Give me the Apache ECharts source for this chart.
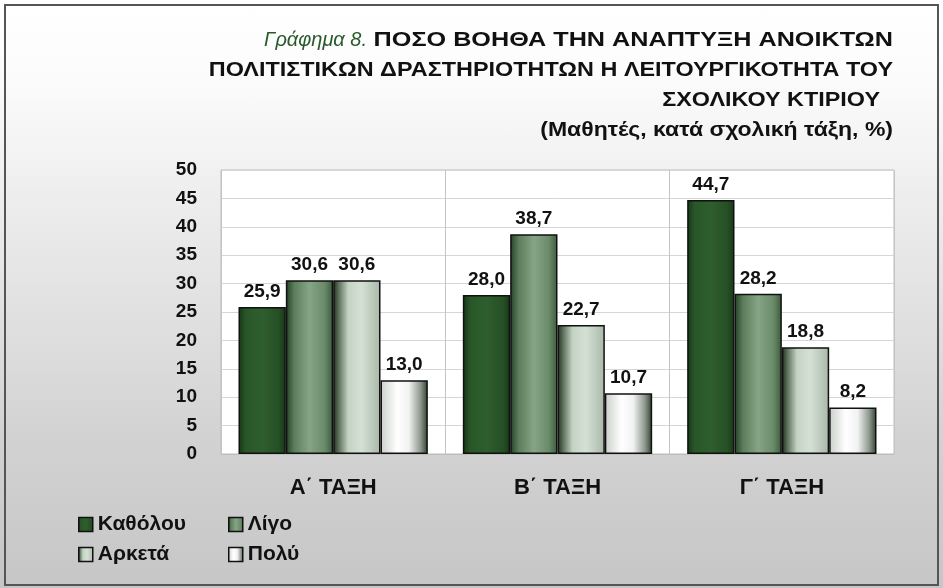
<!DOCTYPE html>
<html>
<head>
<meta charset="utf-8">
<script src="https://cdn.jsdelivr.net/npm/echarts@6/dist/echarts.min.js"></script>
<style>
    html, body { margin: 0; padding: 0; background: #fff; }
    #chart {
        width: 943px; height: 588px;
        background: linear-gradient(to bottom, #ffffff 0%, #fcfcfc 12%, #e6e6e6 45%, #d2d2d2 75%, #c6c6c6 100%);
    }
</style>
</head>
<body>
<div id="chart"></div>
<script>
    const classes = ['Α΄ ΤΑΞΗ', 'Β΄ ΤΑΞΗ', 'Γ΄ ΤΑΞΗ'];
    const seriesNames = ['Καθόλου', 'Λίγο', 'Αρκετά', 'Πολύ'];
    const katholou = [25.9, 28.0, 44.7];
    const ligo = [30.6, 38.7, 28.2];
    const arketa = [30.6, 22.7, 18.8];
    const poly = [13.0, 10.7, 8.2];
    const yTicks = {min: 0, max: 50, step: 5};
    const titleLabel = 'Γράφημα 8.';
    const titleLines = [
        'ΠΟΣΟ ΒΟΗΘΑ ΤΗΝ ΑΝΑΠΤΥΞΗ ΑΝΟΙΚΤΩΝ',
        'ΠΟΛΙΤΙΣΤΙΚΩΝ ΔΡΑΣΤΗΡΙΟΤΗΤΩΝ Η ΛΕΙΤΟΥΡΓΙΚΟΤΗΤΑ ΤΟΥ',
        'ΣΧΟΛΙΚΟΥ ΚΤΙΡΙΟΥ  ',
        '(Μαθητές, κατά σχολική τάξη, %)'
    ];

    const FONT = 'Liberation Sans';

    function grad(stops) {
        return new echarts.graphic.LinearGradient(0, 0, 1, 0,
            stops.map(s => ({offset: s[0], color: s[1]})));
    }

    /* gradients of the four bar fills */
    const fills = [
        grad([[0, '#163516'], [0.15, '#285628'], [0.5, '#2e5e2e'], [0.85, '#264f26'], [1, '#173817']]),
        grad([[0, '#263f26'], [0.18, '#5c7e5c'], [0.5, '#86a486'], [0.82, '#6a8b6a'], [1, '#3c5a3c']]),
        grad([[0, '#1c2e1c'], [0.12, '#5e725e'], [0.32, '#c4d3c4'], [0.6, '#d5e0d5'], [1, '#a8b8a8']]),
        grad([[0, '#c9cfc9'], [0.35, '#ffffff'], [0.6, '#f2f2f2'], [0.85, '#8c978c'], [1, '#2e3e2e']])
    ];
    const values = [katholou, ligo, arketa, poly];

    let chart = echarts.init(document.getElementById('chart'), null, {renderer: 'canvas'});

    // title lines, right aligned on the plot's right edge (the source font is wider, so stretch a bit)
    const lineStretch = [1.26, 1.17, 1.17, 1.15];
    let titleGraphics = titleLines.map((t, i) => ({
        type: 'text',
        silent: true,
        x: 893,
        y: 40 + i * 30,
        scaleX: lineStretch[i],
        style: {
            text: t,
            x: 0,
            y: 0,
            align: 'right',
            verticalAlign: 'middle',
            fontFamily: FONT,
            fontWeight: 'bold',
            fontSize: 20,
            fill: '#111'
        }
    }));
    titleGraphics.push({
        type: 'text',
        silent: true,
        x: 367,
        y: 40,
        style: {
            text: titleLabel,
            x: 0, y: 0,
            align: 'right',
            verticalAlign: 'middle',
            fontFamily: FONT,
            fontStyle: 'italic',
            fontSize: 20,
            fill: '#285a29'
        }
    });

    let legendBase = {
        orient: 'vertical', top: 514,
        padding: 0,
        itemWidth: 14, itemHeight: 14, itemGap: 9,
        icon: 'rect',
        itemStyle: {borderColor: '#111', borderWidth: 1.5},
        textStyle: {fontFamily: FONT, fontWeight: 'bold', fontSize: 21, color: '#111'}
    };

    let option = {
        animation: false,
        legend: [
            Object.assign({data: [seriesNames[0], seriesNames[2]], left: 78}, legendBase),
            Object.assign({data: [seriesNames[1], seriesNames[3]], left: 228}, legendBase)
        ],
        grid: {
            left: 221, right: 49, top: 170, bottom: 134,
            show: true,
            backgroundColor: '#ffffff',
            borderColor: '#bdbdbd',
            borderWidth: 1
        },
        xAxis: {
            type: 'category',
            data: classes,
            axisTick: {show: false},
            axisLine: {lineStyle: {color: '#bdbdbd'}},
            splitLine: {show: true, lineStyle: {color: '#c4c4c4'}},
            axisLabel: {
                fontFamily: FONT, fontWeight: 'bold', fontSize: 22, color: '#111', margin: 23
            }
        },
        yAxis: {
            type: 'value',
            min: yTicks.min,
            max: yTicks.max,
            interval: yTicks.step,
            axisLine: {show: false},
            axisTick: {show: false},
            splitLine: {lineStyle: {color: '#d6d6d6'}},
            axisLabel: {
                fontFamily: FONT, fontWeight: 'bold', fontSize: 19, color: '#111', margin: 24
            }
        },
        series: seriesNames.map((name, i) => ({
            name: name,
            type: 'bar',
            data: values[i],
            barGap: '0%',
            barCategoryGap: '15.6%',
            itemStyle: {color: fills[i], borderColor: '#111', borderWidth: 1.5},
            label: {
                show: true,
                position: 'top',
                distance: 6,
                fontFamily: FONT,
                fontWeight: 'bold',
                fontSize: 19,
                color: '#111',
                formatter: p => p.value.toFixed(1).replace('.', ',')
            }
        })),
        graphic: titleGraphics.concat([{
            type: 'rect',
            silent: true,
            shape: {x: 5, y: 5, width: 933, height: 580},
            style: {fill: 'none', stroke: '#555', lineWidth: 2},
            z: 100
        }])
    };
    chart.setOption(option);
</script>
</body>
</html>
